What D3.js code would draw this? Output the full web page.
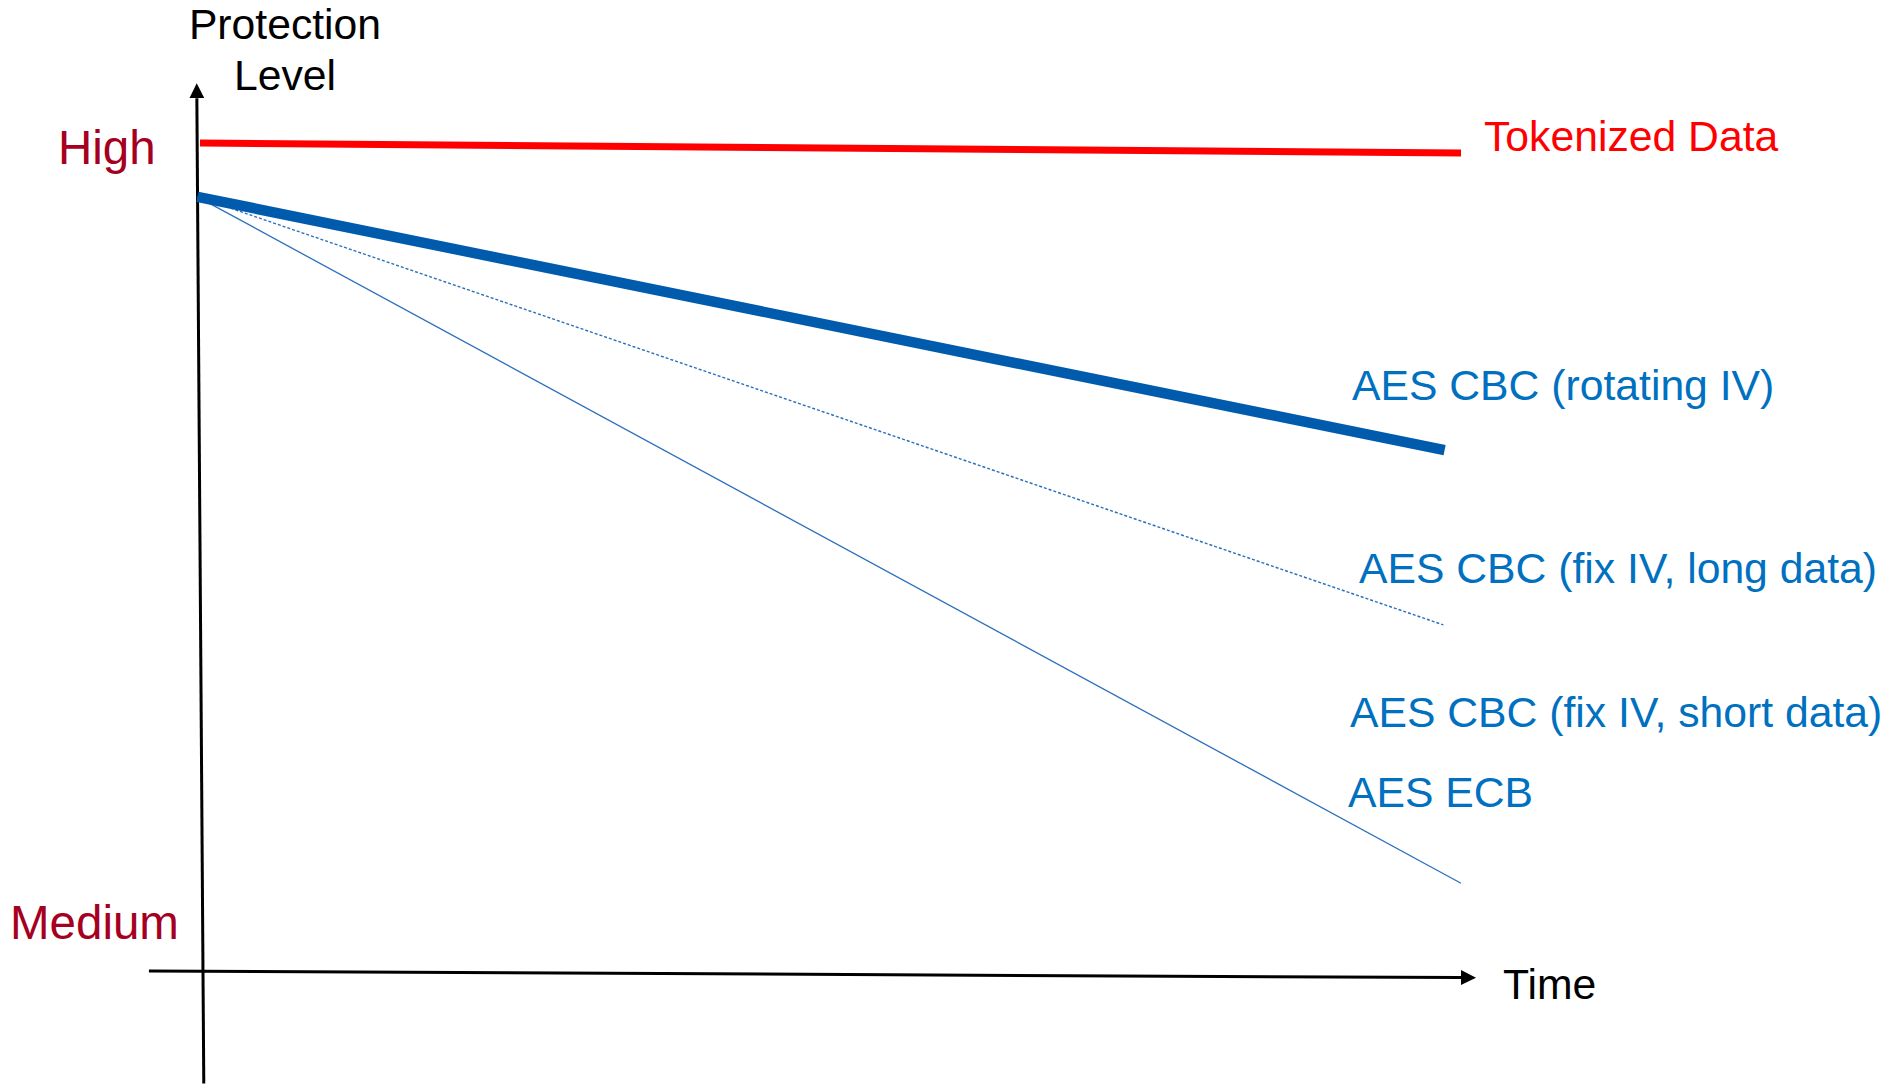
<!DOCTYPE html>
<html>
<head>
<meta charset="utf-8">
<script src="https://cdn.jsdelivr.net/npm/d3@7"></script>
<style>
  html, body { margin: 0; padding: 0; background: #ffffff; }
  svg { display: block; font-family: "Liberation Sans", Arial, sans-serif; }
</style>
</head>
<body>
<svg id="chart" width="1890" height="1088"></svg>
<script>
// ---- data (abstract units: time 0..100, protection level 0 = Medium .. 100 = High) ----
const seriesNames = ["Tokenized Data", "AES CBC (rotating IV)", "AES CBC (fix IV, long data)", "AES CBC (fix IV, short data)"];
const startTime = [0, -0.2, -0.2, -0.2];
const endTime = [100, 98.7, 98.6, 100];
const startLevel = [100, 93.5, 93.5, 93.5];
const endLevel = [98.8, 62.9, 41.8, 10.6];
const levelLabels = ["High", "Medium"];
const axisTitles = ["Protection", "Level", "Time"];
const extraLabels = ["AES ECB"];

// ---- scales ----
const x = d3.scaleLinear().domain([0, 100]).range([200, 1461]);
const y = d3.scaleLinear().domain([0, 100]).range([971, 143]);

const svg = d3.select("#chart");
const defs = svg.append("defs");
defs.append("marker")
  .attr("id", "arrow")
  .attr("markerUnits", "userSpaceOnUse")
  .attr("markerWidth", 18).attr("markerHeight", 18)
  .attr("viewBox", "0 -9 18 18")
  .attr("refX", 0).attr("refY", 0)
  .attr("orient", "auto")
  .append("path")
  .attr("d", "M0,-7.5 L15,0 L0,7.5 Z")
  .attr("fill", "#000");

const line = d3.line().x(d => x(d[0])).y(d => y(d[1]));

// ---- axes (hand-drawn style, slightly skewed as in the reference) ----
svg.append("path")
  .attr("d", line([[0.3, -13.6], [-0.25, 105.4]]))
  .attr("stroke", "#000").attr("stroke-width", 3).attr("fill", "none")
  .attr("marker-end", "url(#arrow)");
svg.append("path")
  .attr("d", line([[-4.05, 0], [100, -0.8]]))
  .attr("stroke", "#000").attr("stroke-width", 3).attr("fill", "none")
  .attr("marker-end", "url(#arrow)");

// ---- series lines ----
const styles = [
  { color: "#FF0000", width: 7, dash: null },
  { color: "#005BAC", width: 10.5, dash: null },
  { color: "#2A6FBE", width: 1.4, dash: "3 2" },
  { color: "#2A6FBE", width: 1.3, dash: null }
];
const order = [3, 2, 1, 0];
order.forEach(i => {
  svg.append("path")
    .attr("d", line([[startTime[i], startLevel[i]], [endTime[i], endLevel[i]]]))
    .attr("fill", "none")
    .attr("stroke", styles[i].color)
    .attr("stroke-width", styles[i].width)
    .attr("stroke-dasharray", styles[i].dash);
});

// ---- labels ----
const fs = 42.7;
svg.append("text").text(axisTitles[0]).attr("x", 285).attr("y", 39)
  .attr("text-anchor", "middle").attr("font-size", fs).attr("fill", "#000");
svg.append("text").text(axisTitles[1]).attr("x", 285).attr("y", 90)
  .attr("text-anchor", "middle").attr("font-size", fs).attr("fill", "#000");
svg.append("text").text(axisTitles[2]).attr("x", 1503).attr("y", 999)
  .attr("font-size", fs).attr("fill", "#000");

svg.append("text").text(levelLabels[0]).attr("x", 58).attr("y", 164)
  .attr("font-size", 47.5).attr("fill", "#A50021");
svg.append("text").text(levelLabels[1]).attr("x", 10).attr("y", 939)
  .attr("font-size", 47.5).attr("fill", "#A50021");

const labelPos = [[1484, 151], [1352, 400], [1359, 583], [1350, 727]];
seriesNames.forEach((name, i) => {
  svg.append("text").text(name)
    .attr("x", labelPos[i][0]).attr("y", labelPos[i][1])
    .attr("font-size", fs)
    .attr("fill", i === 0 ? "#FF0000" : "#0070C0");
});
svg.append("text").text(extraLabels[0]).attr("x", 1348).attr("y", 807)
  .attr("font-size", fs).attr("fill", "#0070C0");
</script>
</body>
</html>
